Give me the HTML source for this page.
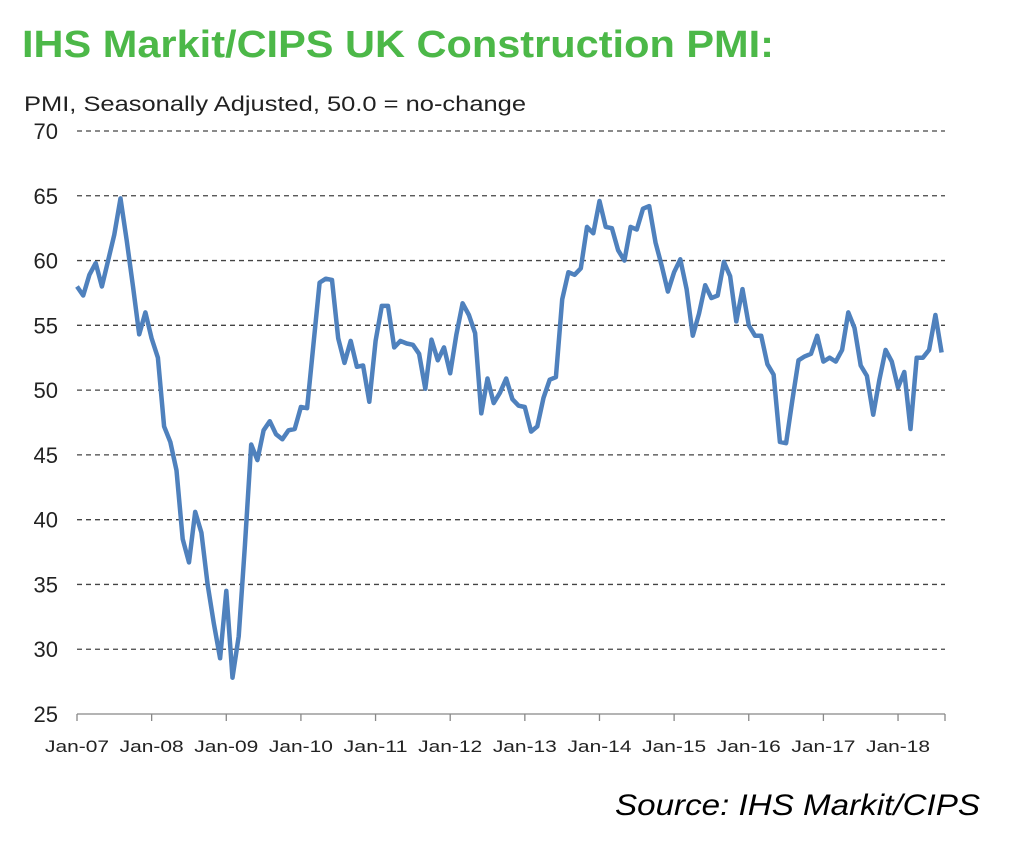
<!DOCTYPE html>
<html><head><meta charset="utf-8"><style>
body{margin:0;background:#fff;width:1024px;height:861px;overflow:hidden;font-family:"Liberation Sans",sans-serif}
svg{position:absolute;left:0;top:0}
</style></head><body>
<svg width="1024" height="861">
<text x="22" y="57" font-size="38" font-weight="bold" fill="#4cb848" textLength="752" lengthAdjust="spacingAndGlyphs">IHS Markit/CIPS UK Construction PMI:</text>
<text x="24" y="111" font-size="21" fill="#222" textLength="502" lengthAdjust="spacingAndGlyphs">PMI, Seasonally Adjusted, 50.0 = no-change</text>
<g id="grid"></g><g id="axes"></g>
<path id="line" fill="none" stroke="#4f81bd" stroke-width="4.5" stroke-linejoin="round"/>
<text x="980" y="815" font-size="30" font-style="italic" text-anchor="end" fill="#000" textLength="365" lengthAdjust="spacingAndGlyphs">Source: IHS Markit/CIPS</text>
</svg>
<script>
const yTicks=[25,30,35,40,45,50,55,60,65,70];
const xLabels=["Jan-07","Jan-08","Jan-09","Jan-10","Jan-11","Jan-12","Jan-13","Jan-14","Jan-15","Jan-16","Jan-17","Jan-18"];
const pmi=[58.0,57.3,58.9,59.8,58.0,60.0,62.0,64.8,61.5,58.0,54.3,56.0,
54.0,52.5,47.2,46.0,43.8,38.5,36.7,40.6,39.0,35.0,32.0,29.3,
34.5,27.8,31.0,38.0,45.8,44.6,46.9,47.6,46.6,46.2,46.9,47.0,
48.7,48.6,53.5,58.3,58.6,58.5,54.0,52.1,53.8,51.8,51.9,49.1,
53.8,56.5,56.5,53.3,53.8,53.6,53.5,52.8,50.1,53.9,52.3,53.3,
51.3,54.3,56.7,55.8,54.4,48.2,50.9,49.0,49.8,50.9,49.3,48.8,
48.7,46.8,47.2,49.4,50.8,51.0,57.0,59.1,58.9,59.4,62.6,62.1,
64.6,62.6,62.5,60.8,60.0,62.6,62.4,64.0,64.2,61.4,59.6,57.6,
59.1,60.1,57.8,54.2,55.9,58.1,57.1,57.3,59.9,58.8,55.3,57.8,
55.0,54.2,54.2,52.0,51.2,46.0,45.9,49.2,52.3,52.6,52.8,54.2,
52.2,52.5,52.2,53.1,56.0,54.8,51.9,51.1,48.1,50.8,53.1,52.2,
50.2,51.4,47.0,52.5,52.5,53.1,55.8,52.9];
const X0=77,MW=6.22,Y70=131,Y25=714,XR=945;
const xs=i=>X0+i*MW;
const ys=v=>Y25-(v-25)*(Y25-Y70)/45;
const NS="http://www.w3.org/2000/svg";
const grid=document.getElementById('grid'),axes=document.getElementById('axes');
function mk(t,a,p){const e=document.createElementNS(NS,t);for(const k in a)e.setAttribute(k,a[k]);p.appendChild(e);return e;}
yTicks.forEach(v=>{
 if(v>25){const l=mk('line',{x1:X0,x2:XR,y1:ys(v),y2:ys(v),stroke:'#444','stroke-width':1.3,'stroke-dasharray':'5,4'},grid);
 
 }
 const t=mk('text',{x:58,y:ys(v)+8,'font-size':22,'text-anchor':'end',fill:'#222'},axes);t.textContent=v;
 
 
});
const base=mk('line',{x1:X0,x2:XR,y1:Y25,y2:Y25,stroke:'#888','stroke-width':1.3},axes);


xLabels.forEach((s,k)=>{
 const x=xs(k*12);
 mk('line',{x1:x,x2:x,y1:Y25,y2:Y25+7,stroke:'#888','stroke-width':1.3},axes);
 const t=mk('text',{x:x,y:752,'font-size':17,'text-anchor':'middle',fill:'#222',textLength:64,lengthAdjust:'spacingAndGlyphs'},axes);t.textContent=s;
 
 
});
mk('line',{x1:XR,x2:XR,y1:Y25,y2:Y25+7,stroke:'#888','stroke-width':1.3},axes);
document.getElementById('line').setAttribute('d',pmi.map((v,i)=>(i?'L':'M')+xs(i).toFixed(1)+','+ys(v).toFixed(1)).join(''));
</script>
</body></html>
